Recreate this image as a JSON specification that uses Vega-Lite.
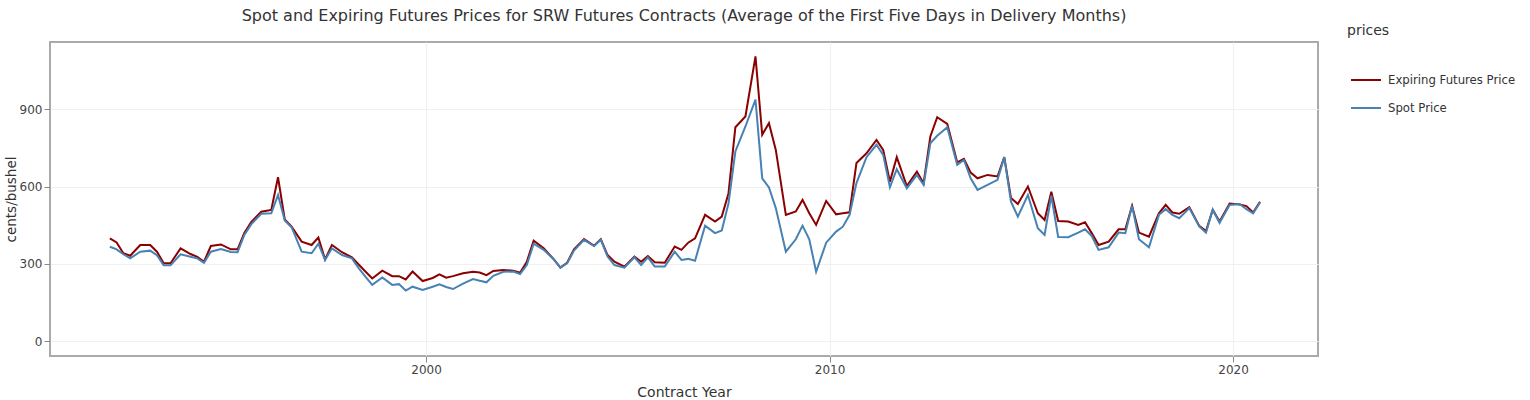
{
  "$schema": "https://vega.github.io/schema/vega-lite/v6.json",
  "width": 1268,
  "height": 314,
  "autosize": "none",
  "padding": {"left": 50, "top": 42, "right": 212, "bottom": 44},
  "background": "white",
  "config": {
    "font": "DejaVu Sans",
    "view": {"stroke": "#aaaaaa", "strokeWidth": 2}
  },
  "title": {
    "text": "Spot and Expiring Futures Prices for SRW Futures Contracts (Average of the First Five Days in Delivery Months)",
    "anchor": "middle",
    "fontSize": 16,
    "fontWeight": "normal",
    "color": "#333333",
    "offset": 18,
    "dy": 18
  },
  "data": {
    "values": [
      {"date":"1992-03-01","series":"Expiring Futures Price","price":399},
      {"date":"1992-05-01","series":"Expiring Futures Price","price":383},
      {"date":"1992-07-01","series":"Expiring Futures Price","price":341},
      {"date":"1992-09-01","series":"Expiring Futures Price","price":331},
      {"date":"1992-12-01","series":"Expiring Futures Price","price":373},
      {"date":"1993-03-01","series":"Expiring Futures Price","price":373},
      {"date":"1993-05-01","series":"Expiring Futures Price","price":347},
      {"date":"1993-07-01","series":"Expiring Futures Price","price":302},
      {"date":"1993-09-01","series":"Expiring Futures Price","price":302},
      {"date":"1993-12-01","series":"Expiring Futures Price","price":360},
      {"date":"1994-03-01","series":"Expiring Futures Price","price":338},
      {"date":"1994-05-01","series":"Expiring Futures Price","price":327},
      {"date":"1994-07-01","series":"Expiring Futures Price","price":308},
      {"date":"1994-09-01","series":"Expiring Futures Price","price":369},
      {"date":"1994-12-01","series":"Expiring Futures Price","price":375},
      {"date":"1995-03-01","series":"Expiring Futures Price","price":356},
      {"date":"1995-05-01","series":"Expiring Futures Price","price":356},
      {"date":"1995-07-01","series":"Expiring Futures Price","price":420},
      {"date":"1995-09-01","series":"Expiring Futures Price","price":462},
      {"date":"1995-12-01","series":"Expiring Futures Price","price":502},
      {"date":"1996-03-01","series":"Expiring Futures Price","price":509},
      {"date":"1996-05-01","series":"Expiring Futures Price","price":636},
      {"date":"1996-07-01","series":"Expiring Futures Price","price":472},
      {"date":"1996-09-01","series":"Expiring Futures Price","price":444},
      {"date":"1996-12-01","series":"Expiring Futures Price","price":386},
      {"date":"1997-03-01","series":"Expiring Futures Price","price":373},
      {"date":"1997-05-01","series":"Expiring Futures Price","price":402},
      {"date":"1997-07-01","series":"Expiring Futures Price","price":317},
      {"date":"1997-09-01","series":"Expiring Futures Price","price":373},
      {"date":"1997-12-01","series":"Expiring Futures Price","price":345},
      {"date":"1998-03-01","series":"Expiring Futures Price","price":325},
      {"date":"1998-05-01","series":"Expiring Futures Price","price":297},
      {"date":"1998-07-01","series":"Expiring Futures Price","price":270},
      {"date":"1998-09-01","series":"Expiring Futures Price","price":243},
      {"date":"1998-12-01","series":"Expiring Futures Price","price":273},
      {"date":"1999-03-01","series":"Expiring Futures Price","price":252},
      {"date":"1999-05-01","series":"Expiring Futures Price","price":252},
      {"date":"1999-07-01","series":"Expiring Futures Price","price":239},
      {"date":"1999-09-01","series":"Expiring Futures Price","price":270},
      {"date":"1999-12-01","series":"Expiring Futures Price","price":233},
      {"date":"2000-03-01","series":"Expiring Futures Price","price":245},
      {"date":"2000-05-01","series":"Expiring Futures Price","price":259},
      {"date":"2000-07-01","series":"Expiring Futures Price","price":246},
      {"date":"2000-09-01","series":"Expiring Futures Price","price":252},
      {"date":"2000-12-01","series":"Expiring Futures Price","price":263},
      {"date":"2001-03-01","series":"Expiring Futures Price","price":269},
      {"date":"2001-05-01","series":"Expiring Futures Price","price":266},
      {"date":"2001-07-01","series":"Expiring Futures Price","price":256},
      {"date":"2001-09-01","series":"Expiring Futures Price","price":272},
      {"date":"2001-12-01","series":"Expiring Futures Price","price":276},
      {"date":"2002-03-01","series":"Expiring Futures Price","price":273},
      {"date":"2002-05-01","series":"Expiring Futures Price","price":265},
      {"date":"2002-07-01","series":"Expiring Futures Price","price":308},
      {"date":"2002-09-01","series":"Expiring Futures Price","price":390},
      {"date":"2002-12-01","series":"Expiring Futures Price","price":360},
      {"date":"2003-03-01","series":"Expiring Futures Price","price":318},
      {"date":"2003-05-01","series":"Expiring Futures Price","price":285},
      {"date":"2003-07-01","series":"Expiring Futures Price","price":304},
      {"date":"2003-09-01","series":"Expiring Futures Price","price":356},
      {"date":"2003-12-01","series":"Expiring Futures Price","price":396},
      {"date":"2004-03-01","series":"Expiring Futures Price","price":370},
      {"date":"2004-05-01","series":"Expiring Futures Price","price":395},
      {"date":"2004-07-01","series":"Expiring Futures Price","price":334},
      {"date":"2004-09-01","series":"Expiring Futures Price","price":308},
      {"date":"2004-12-01","series":"Expiring Futures Price","price":289},
      {"date":"2005-03-01","series":"Expiring Futures Price","price":328},
      {"date":"2005-05-01","series":"Expiring Futures Price","price":308},
      {"date":"2005-07-01","series":"Expiring Futures Price","price":330},
      {"date":"2005-09-01","series":"Expiring Futures Price","price":306},
      {"date":"2005-12-01","series":"Expiring Futures Price","price":304},
      {"date":"2006-03-01","series":"Expiring Futures Price","price":367},
      {"date":"2006-05-01","series":"Expiring Futures Price","price":354},
      {"date":"2006-07-01","series":"Expiring Futures Price","price":382},
      {"date":"2006-09-01","series":"Expiring Futures Price","price":399},
      {"date":"2006-12-01","series":"Expiring Futures Price","price":490},
      {"date":"2007-03-01","series":"Expiring Futures Price","price":464},
      {"date":"2007-05-01","series":"Expiring Futures Price","price":483},
      {"date":"2007-07-01","series":"Expiring Futures Price","price":574},
      {"date":"2007-09-01","series":"Expiring Futures Price","price":830},
      {"date":"2007-12-01","series":"Expiring Futures Price","price":872},
      {"date":"2008-03-01","series":"Expiring Futures Price","price":1105},
      {"date":"2008-05-01","series":"Expiring Futures Price","price":801},
      {"date":"2008-07-01","series":"Expiring Futures Price","price":846},
      {"date":"2008-09-01","series":"Expiring Futures Price","price":742},
      {"date":"2008-12-01","series":"Expiring Futures Price","price":490},
      {"date":"2009-03-01","series":"Expiring Futures Price","price":503},
      {"date":"2009-05-01","series":"Expiring Futures Price","price":548},
      {"date":"2009-07-01","series":"Expiring Futures Price","price":496},
      {"date":"2009-09-01","series":"Expiring Futures Price","price":451},
      {"date":"2009-12-01","series":"Expiring Futures Price","price":544},
      {"date":"2010-03-01","series":"Expiring Futures Price","price":492},
      {"date":"2010-05-01","series":"Expiring Futures Price","price":496},
      {"date":"2010-07-01","series":"Expiring Futures Price","price":500},
      {"date":"2010-09-01","series":"Expiring Futures Price","price":691},
      {"date":"2010-12-01","series":"Expiring Futures Price","price":729},
      {"date":"2011-03-01","series":"Expiring Futures Price","price":781},
      {"date":"2011-05-01","series":"Expiring Futures Price","price":742},
      {"date":"2011-07-01","series":"Expiring Futures Price","price":619},
      {"date":"2011-09-01","series":"Expiring Futures Price","price":714},
      {"date":"2011-12-01","series":"Expiring Futures Price","price":602},
      {"date":"2012-03-01","series":"Expiring Futures Price","price":658},
      {"date":"2012-05-01","series":"Expiring Futures Price","price":613},
      {"date":"2012-07-01","series":"Expiring Futures Price","price":794},
      {"date":"2012-09-01","series":"Expiring Futures Price","price":869},
      {"date":"2012-12-01","series":"Expiring Futures Price","price":843},
      {"date":"2013-03-01","series":"Expiring Futures Price","price":694},
      {"date":"2013-05-01","series":"Expiring Futures Price","price":707},
      {"date":"2013-07-01","series":"Expiring Futures Price","price":654},
      {"date":"2013-09-01","series":"Expiring Futures Price","price":632},
      {"date":"2013-12-01","series":"Expiring Futures Price","price":645},
      {"date":"2014-03-01","series":"Expiring Futures Price","price":639},
      {"date":"2014-05-01","series":"Expiring Futures Price","price":714},
      {"date":"2014-07-01","series":"Expiring Futures Price","price":555},
      {"date":"2014-09-01","series":"Expiring Futures Price","price":532},
      {"date":"2014-12-01","series":"Expiring Futures Price","price":600},
      {"date":"2015-03-01","series":"Expiring Futures Price","price":496},
      {"date":"2015-05-01","series":"Expiring Futures Price","price":470},
      {"date":"2015-07-01","series":"Expiring Futures Price","price":580},
      {"date":"2015-09-01","series":"Expiring Futures Price","price":466},
      {"date":"2015-12-01","series":"Expiring Futures Price","price":464},
      {"date":"2016-03-01","series":"Expiring Futures Price","price":451},
      {"date":"2016-05-01","series":"Expiring Futures Price","price":461},
      {"date":"2016-07-01","series":"Expiring Futures Price","price":419},
      {"date":"2016-09-01","series":"Expiring Futures Price","price":373},
      {"date":"2016-12-01","series":"Expiring Futures Price","price":386},
      {"date":"2017-03-01","series":"Expiring Futures Price","price":434},
      {"date":"2017-05-01","series":"Expiring Futures Price","price":434},
      {"date":"2017-07-01","series":"Expiring Futures Price","price":525},
      {"date":"2017-09-01","series":"Expiring Futures Price","price":421},
      {"date":"2017-12-01","series":"Expiring Futures Price","price":405},
      {"date":"2018-03-01","series":"Expiring Futures Price","price":496},
      {"date":"2018-05-01","series":"Expiring Futures Price","price":529},
      {"date":"2018-07-01","series":"Expiring Futures Price","price":499},
      {"date":"2018-09-01","series":"Expiring Futures Price","price":494},
      {"date":"2018-12-01","series":"Expiring Futures Price","price":520},
      {"date":"2019-03-01","series":"Expiring Futures Price","price":447},
      {"date":"2019-05-01","series":"Expiring Futures Price","price":427},
      {"date":"2019-07-01","series":"Expiring Futures Price","price":510},
      {"date":"2019-09-01","series":"Expiring Futures Price","price":464},
      {"date":"2019-12-01","series":"Expiring Futures Price","price":534},
      {"date":"2020-03-01","series":"Expiring Futures Price","price":530},
      {"date":"2020-05-01","series":"Expiring Futures Price","price":524},
      {"date":"2020-07-01","series":"Expiring Futures Price","price":499},
      {"date":"2020-09-01","series":"Expiring Futures Price","price":541},
      {"date":"1992-03-01","series":"Spot Price","price":366},
      {"date":"1992-05-01","series":"Spot Price","price":356},
      {"date":"1992-07-01","series":"Spot Price","price":337},
      {"date":"1992-09-01","series":"Spot Price","price":321},
      {"date":"1992-12-01","series":"Spot Price","price":347},
      {"date":"1993-03-01","series":"Spot Price","price":351},
      {"date":"1993-05-01","series":"Spot Price","price":333},
      {"date":"1993-07-01","series":"Spot Price","price":294},
      {"date":"1993-09-01","series":"Spot Price","price":294},
      {"date":"1993-12-01","series":"Spot Price","price":337},
      {"date":"1994-03-01","series":"Spot Price","price":327},
      {"date":"1994-05-01","series":"Spot Price","price":321},
      {"date":"1994-07-01","series":"Spot Price","price":304},
      {"date":"1994-09-01","series":"Spot Price","price":347},
      {"date":"1994-12-01","series":"Spot Price","price":357},
      {"date":"1995-03-01","series":"Spot Price","price":346},
      {"date":"1995-05-01","series":"Spot Price","price":345},
      {"date":"1995-07-01","series":"Spot Price","price":412},
      {"date":"1995-09-01","series":"Spot Price","price":453},
      {"date":"1995-12-01","series":"Spot Price","price":494},
      {"date":"1996-03-01","series":"Spot Price","price":496},
      {"date":"1996-05-01","series":"Spot Price","price":567},
      {"date":"1996-07-01","series":"Spot Price","price":468},
      {"date":"1996-09-01","series":"Spot Price","price":442},
      {"date":"1996-12-01","series":"Spot Price","price":347},
      {"date":"1997-03-01","series":"Spot Price","price":341},
      {"date":"1997-05-01","series":"Spot Price","price":378},
      {"date":"1997-07-01","series":"Spot Price","price":315},
      {"date":"1997-09-01","series":"Spot Price","price":360},
      {"date":"1997-12-01","series":"Spot Price","price":334},
      {"date":"1998-03-01","series":"Spot Price","price":321},
      {"date":"1998-05-01","series":"Spot Price","price":283},
      {"date":"1998-07-01","series":"Spot Price","price":250},
      {"date":"1998-09-01","series":"Spot Price","price":218},
      {"date":"1998-12-01","series":"Spot Price","price":247},
      {"date":"1999-03-01","series":"Spot Price","price":218},
      {"date":"1999-05-01","series":"Spot Price","price":221},
      {"date":"1999-07-01","series":"Spot Price","price":196},
      {"date":"1999-09-01","series":"Spot Price","price":211},
      {"date":"1999-12-01","series":"Spot Price","price":198},
      {"date":"2000-03-01","series":"Spot Price","price":211},
      {"date":"2000-05-01","series":"Spot Price","price":220},
      {"date":"2000-07-01","series":"Spot Price","price":210},
      {"date":"2000-09-01","series":"Spot Price","price":202},
      {"date":"2000-12-01","series":"Spot Price","price":223},
      {"date":"2001-03-01","series":"Spot Price","price":241},
      {"date":"2001-05-01","series":"Spot Price","price":234},
      {"date":"2001-07-01","series":"Spot Price","price":228},
      {"date":"2001-09-01","series":"Spot Price","price":253},
      {"date":"2001-12-01","series":"Spot Price","price":269},
      {"date":"2002-03-01","series":"Spot Price","price":270},
      {"date":"2002-05-01","series":"Spot Price","price":260},
      {"date":"2002-07-01","series":"Spot Price","price":295},
      {"date":"2002-09-01","series":"Spot Price","price":378},
      {"date":"2002-12-01","series":"Spot Price","price":354},
      {"date":"2003-03-01","series":"Spot Price","price":318},
      {"date":"2003-05-01","series":"Spot Price","price":285},
      {"date":"2003-07-01","series":"Spot Price","price":302},
      {"date":"2003-09-01","series":"Spot Price","price":351},
      {"date":"2003-12-01","series":"Spot Price","price":393},
      {"date":"2004-03-01","series":"Spot Price","price":369},
      {"date":"2004-05-01","series":"Spot Price","price":393},
      {"date":"2004-07-01","series":"Spot Price","price":328},
      {"date":"2004-09-01","series":"Spot Price","price":295},
      {"date":"2004-12-01","series":"Spot Price","price":285},
      {"date":"2005-03-01","series":"Spot Price","price":325},
      {"date":"2005-05-01","series":"Spot Price","price":295},
      {"date":"2005-07-01","series":"Spot Price","price":325},
      {"date":"2005-09-01","series":"Spot Price","price":289},
      {"date":"2005-12-01","series":"Spot Price","price":289},
      {"date":"2006-03-01","series":"Spot Price","price":347},
      {"date":"2006-05-01","series":"Spot Price","price":315},
      {"date":"2006-07-01","series":"Spot Price","price":319},
      {"date":"2006-09-01","series":"Spot Price","price":312},
      {"date":"2006-12-01","series":"Spot Price","price":448},
      {"date":"2007-03-01","series":"Spot Price","price":419},
      {"date":"2007-05-01","series":"Spot Price","price":429},
      {"date":"2007-07-01","series":"Spot Price","price":535},
      {"date":"2007-09-01","series":"Spot Price","price":736},
      {"date":"2007-12-01","series":"Spot Price","price":833},
      {"date":"2008-03-01","series":"Spot Price","price":937},
      {"date":"2008-05-01","series":"Spot Price","price":632},
      {"date":"2008-07-01","series":"Spot Price","price":596},
      {"date":"2008-09-01","series":"Spot Price","price":516},
      {"date":"2008-12-01","series":"Spot Price","price":347},
      {"date":"2009-03-01","series":"Spot Price","price":395},
      {"date":"2009-05-01","series":"Spot Price","price":448},
      {"date":"2009-07-01","series":"Spot Price","price":395},
      {"date":"2009-09-01","series":"Spot Price","price":269},
      {"date":"2009-12-01","series":"Spot Price","price":382},
      {"date":"2010-03-01","series":"Spot Price","price":425},
      {"date":"2010-05-01","series":"Spot Price","price":444},
      {"date":"2010-07-01","series":"Spot Price","price":490},
      {"date":"2010-09-01","series":"Spot Price","price":613},
      {"date":"2010-12-01","series":"Spot Price","price":714},
      {"date":"2011-03-01","series":"Spot Price","price":762},
      {"date":"2011-05-01","series":"Spot Price","price":723},
      {"date":"2011-07-01","series":"Spot Price","price":597},
      {"date":"2011-09-01","series":"Spot Price","price":667},
      {"date":"2011-12-01","series":"Spot Price","price":593},
      {"date":"2012-03-01","series":"Spot Price","price":645},
      {"date":"2012-05-01","series":"Spot Price","price":606},
      {"date":"2012-07-01","series":"Spot Price","price":768},
      {"date":"2012-09-01","series":"Spot Price","price":797},
      {"date":"2012-12-01","series":"Spot Price","price":830},
      {"date":"2013-03-01","series":"Spot Price","price":684},
      {"date":"2013-05-01","series":"Spot Price","price":703},
      {"date":"2013-07-01","series":"Spot Price","price":632},
      {"date":"2013-09-01","series":"Spot Price","price":587},
      {"date":"2013-12-01","series":"Spot Price","price":606},
      {"date":"2014-03-01","series":"Spot Price","price":626},
      {"date":"2014-05-01","series":"Spot Price","price":714},
      {"date":"2014-07-01","series":"Spot Price","price":541},
      {"date":"2014-09-01","series":"Spot Price","price":483},
      {"date":"2014-12-01","series":"Spot Price","price":567},
      {"date":"2015-03-01","series":"Spot Price","price":438},
      {"date":"2015-05-01","series":"Spot Price","price":412},
      {"date":"2015-07-01","series":"Spot Price","price":564},
      {"date":"2015-09-01","series":"Spot Price","price":404},
      {"date":"2015-12-01","series":"Spot Price","price":403},
      {"date":"2016-03-01","series":"Spot Price","price":421},
      {"date":"2016-05-01","series":"Spot Price","price":434},
      {"date":"2016-07-01","series":"Spot Price","price":408},
      {"date":"2016-09-01","series":"Spot Price","price":354},
      {"date":"2016-12-01","series":"Spot Price","price":364},
      {"date":"2017-03-01","series":"Spot Price","price":421},
      {"date":"2017-05-01","series":"Spot Price","price":419},
      {"date":"2017-07-01","series":"Spot Price","price":525},
      {"date":"2017-09-01","series":"Spot Price","price":395},
      {"date":"2017-12-01","series":"Spot Price","price":364},
      {"date":"2018-03-01","series":"Spot Price","price":490},
      {"date":"2018-05-01","series":"Spot Price","price":512},
      {"date":"2018-07-01","series":"Spot Price","price":490},
      {"date":"2018-09-01","series":"Spot Price","price":477},
      {"date":"2018-12-01","series":"Spot Price","price":516},
      {"date":"2019-03-01","series":"Spot Price","price":445},
      {"date":"2019-05-01","series":"Spot Price","price":421},
      {"date":"2019-07-01","series":"Spot Price","price":510},
      {"date":"2019-09-01","series":"Spot Price","price":459},
      {"date":"2019-12-01","series":"Spot Price","price":528},
      {"date":"2020-03-01","series":"Spot Price","price":532},
      {"date":"2020-05-01","series":"Spot Price","price":512},
      {"date":"2020-07-01","series":"Spot Price","price":496},
      {"date":"2020-09-01","series":"Spot Price","price":538}
    ]
  },
  "mark": {"type": "line", "strokeWidth": 2, "clip": true},
  "encoding": {
    "x": {
      "field": "date",
      "type": "temporal",
      "scale": {"domain": [{"year": 1990, "month": 9, "date": 6}, {"year": 2022, "month": 2, "date": 8}], "nice": false},
      "axis": {
        "title": "Contract Year",
        "values": [{"year": 2000}, {"year": 2010}, {"year": 2020}],
        "format": "%Y",
        "domain": false,
        "grid": true,
        "gridColor": "#f0f0f0",
        "tickColor": "#888888",
        "tickSize": 6,
        "labelFontSize": 12,
        "labelColor": "#444444",
        "labelPadding": 2,
        "titleFontSize": 14,
        "titleFontWeight": "normal",
        "titleColor": "#333333",
        "titlePadding": 10
      }
    },
    "y": {
      "field": "price",
      "type": "quantitative",
      "scale": {"domain": [-58, 1161], "nice": false, "zero": false},
      "axis": {
        "title": "cents/bushel",
        "values": [0, 300, 600, 900],
        "domain": false,
        "grid": true,
        "gridColor": "#f0f0f0",
        "tickColor": "#888888",
        "tickSize": 6,
        "labelFontSize": 12,
        "labelColor": "#444444",
        "labelPadding": 2,
        "titleFontSize": 13.5,
        "titleFontWeight": "normal",
        "titleColor": "#333333",
        "titlePadding": 1
      }
    },
    "color": {
      "field": "series",
      "type": "nominal",
      "scale": {"domain": ["Expiring Futures Price", "Spot Price"], "range": ["#8b0000", "#4682b4"]},
      "legend": {
        "title": "prices",
        "orient": "none",
        "legendX": 1297,
        "legendY": -18,
        "titleFontSize": 14,
        "titleFontWeight": "normal",
        "titleColor": "#333333",
        "titlePadding": 26,
        "labelFontSize": 11.7,
        "labelColor": "#333333",
        "labelOffset": 6,
        "symbolType": "stroke",
        "symbolSize": 900,
        "symbolStrokeWidth": 2,
        "symbolOffset": 3,
        "rowPadding": 5
      }
    }
  }
}
